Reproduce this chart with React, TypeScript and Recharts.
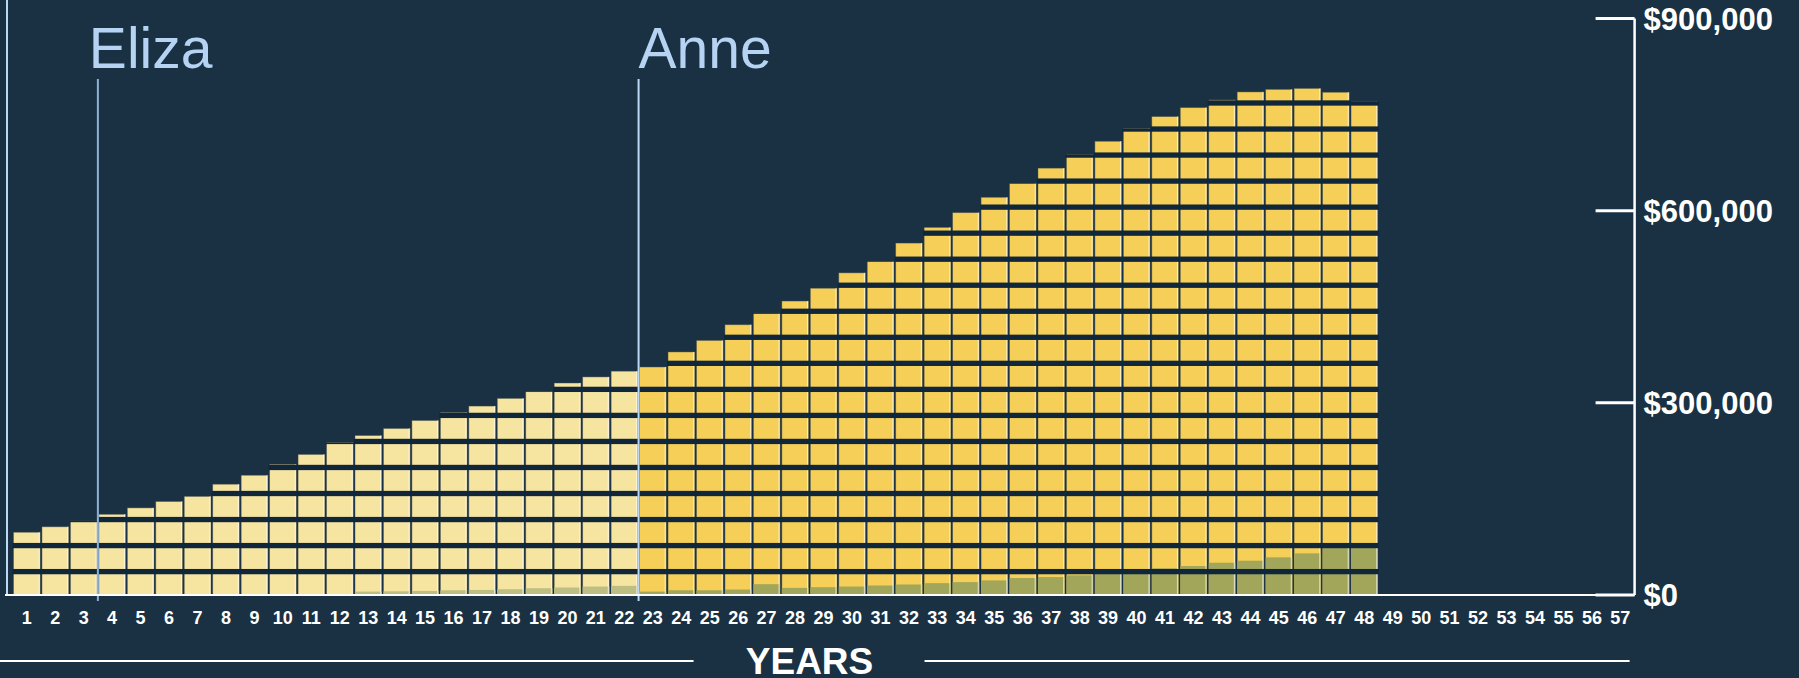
import React from "react";
import { BarChart, Bar, XAxis, YAxis, ReferenceLine, Label } from "recharts";

// categories: years on the x axis (bars run to year 48, axis to 57)
const years = [
  1, 2, 3, 4, 5, 6, 7, 8, 9, 10, 11, 12, 13, 14, 15, 16, 17, 18, 19, 20,
  21, 22, 23, 24, 25, 26, 27, 28, 29, 30, 31, 32, 33, 34, 35, 36, 37, 38, 39, 40,
  41, 42, 43, 44, 45, 46, 47, 48, 49, 50, 51, 52, 53, 54, 55, 56, 57,
];

// total height of each yellow bar ($)
const balance = [
  98000, 106500, 115500, 126000, 136000, 146000, 154000, 173000, 187000, 204000,
  219500, 238000, 249000, 260000, 272500, 285000, 295000, 307000, 318000, 331000,
  340500, 349500, 356000, 379500, 397500, 422000, 440000, 459000, 479000, 503000,
  521000, 549500, 574000, 597000, 621000, 642500, 666500, 688000, 708500, 728000,
  747000, 761000, 773000, 785500, 789500, 791000, 785000, 771000,
];

// olive part at the foot of each bar ($)
const principal = [
  0, 0, 0, 0, 0, 0, 0, 0, 0, 0,
  0, 0, 5300, 5800, 6300, 7400, 7900, 9000, 10600, 11700,
  13200, 14300, 5300, 7400, 7400, 8500, 16900, 11100, 12200, 13200,
  14800, 16400, 18500, 20100, 22800, 26500, 28000, 30700, 33000, 35000,
  41600, 45200, 50400, 53500, 58800, 65000, 75000, 76000,
];

const yTicks = [0, 300000, 600000, 900000];

// people marked on the timeline
const markerNames = ["Eliza", "Anne"];
const markerYears = [4, 23];

// one block of the stacked pictogram, and the dark gap between blocks ($)
const BLOCK = 40650;
const GAP = 8270;

const data = years.map((year, i) => ({
  year,
  balance: balance[i] ?? null,
  principal: principal[i] ?? null,
}));

const FONT = "'Liberation Sans', Arial, sans-serif";
const BG = "#1a3143";

const BlockBar = (props: any) => {
  const { x, y, width, height, payload } = props;
  if (!payload || !payload.balance || !(height > 0)) return null;
  const pxPer = height / payload.balance;
  const base = y + height;
  const late = payload.year >= markerYears[1];
  const fill = late ? "#f5cf57" : "#f6e4a1";
  const olive = late ? "#a1a65b" : "#bdbf82";
  const greenH = (payload.principal || 0) * pxPer;

  const stripes = [];
  for (let k = 1; k * BLOCK - GAP < payload.balance; k++) {
    const top = Math.max(base - k * BLOCK * pxPer, y);
    const bottom = base - (k * BLOCK - GAP) * pxPer;
    stripes.push(
      <rect key={k} x={x - 1} y={top} width={width + 2} height={bottom - top} fill="#10263a" />
    );
  }

  return (
    <g>
      <rect x={x} y={y} width={width} height={height} fill={fill} stroke="rgba(70,80,80,0.55)" strokeWidth={0.8} />
      {greenH > 0 && <rect x={x} y={base - greenH} width={width} height={greenH} fill={olive} />}
      <rect x={x + width - 1.6} y={y} width={1.2} height={height} fill="rgba(255,255,255,0.6)" />
      {stripes}
      <rect x={x - 1} y={base + 5} width={width + 2} height={1.4} fill="#9e9886" />
    </g>
  );
};

const YearTick = ({ x, y, payload }: any) => (
  <text x={x} y={y + 29.4} textAnchor="middle" fill="#ffffff" fontSize={18} fontWeight={700} fontFamily={FONT}>
    {payload.value}
  </text>
);

const MoneyTick = ({ x, y, payload }: any) => (
  <g>
    <line x1={x - 39} x2={x} y1={y} y2={y} stroke="#ffffff" strokeWidth={3} />
    <text x={x + 9} y={y} dy="0.36em" fill="#ffffff" fontSize={31} fontWeight={700} fontFamily={FONT}>
      {"$" + Number(payload.value).toLocaleString("en-US")}
    </text>
  </g>
);

const YearsLabel = ({ viewBox }: any) => {
  if (!viewBox) return null;
  const cx = viewBox.x + viewBox.width / 2 - 14;
  const lineY = viewBox.y + 66;
  return (
    <g>
      <line x1={7} x2={7} y1={0} y2={viewBox.y} stroke="#bcd8f5" strokeWidth={2} />
      <line x1={5} x2={viewBox.x + 1} y1={viewBox.y} y2={viewBox.y} stroke="#ffffff" strokeWidth={2} />
      <line x1={0} x2={cx - 116} y1={lineY} y2={lineY} stroke="#ffffff" strokeWidth={2} />
      <line x1={cx + 115} x2={viewBox.x + viewBox.width - 5} y1={lineY} y2={lineY} stroke="#ffffff" strokeWidth={2} />
      <text x={cx} y={viewBox.y + 79} textAnchor="middle" fill="#ffffff" fontSize={37} fontWeight={700} fontFamily={FONT}>
        YEARS
      </text>
    </g>
  );
};

const markerShape = (name: string, stroke: string, dx: number) => (p: any) => {
  const top = Math.min(p.y1, p.y2);
  const bottom = Math.max(p.y1, p.y2);
  return (
    <g>
      <line x1={p.x1} x2={p.x1} y1={top + 60.4} y2={bottom + 6} stroke={stroke} strokeWidth={2} />
      <text x={p.x1 + dx} y={top + 49.5} fill="#b6d3f3" fontSize={57} fontFamily={FONT}>
        {name}
      </text>
    </g>
  );
};

export default function App() {
  return (
    <div style={{ position: "absolute", left: 0, top: 0, width: 1799, height: 678, background: BG, overflow: "hidden" }}>
      <BarChart
        width={1799}
        height={678}
        data={data}
        margin={{ top: 18.6, right: 0, bottom: 0, left: 12.5 }}
        barSize={26.7}
        style={{ background: BG }}
      >
        <XAxis
          dataKey="year"
          type="category"
          interval={0}
          height={83}
          tickLine={false}
          tickSize={0}
          tickMargin={0}
          axisLine={{ stroke: "#ffffff", strokeWidth: 2 }}
          tick={<YearTick />}
        >
          <Label content={<YearsLabel />} />
        </XAxis>
        <YAxis
          orientation="right"
          width={164.4}
          domain={[0, 900000]}
          ticks={yTicks}
          allowDataOverflow
          tickLine={false}
          tickSize={0}
          tickMargin={0}
          axisLine={{ stroke: "#ffffff", strokeWidth: 2.5 }}
          tick={<MoneyTick />}
        />
        <Bar dataKey="balance" isAnimationActive={false} shape={BlockBar} />
        <ReferenceLine
          x={markerYears[0]}
          position="start"
          ifOverflow="visible"
          shape={markerShape(markerNames[0], "#8fb1d4", -9)}
        />
        <ReferenceLine
          x={markerYears[1]}
          position="start"
          ifOverflow="visible"
          shape={markerShape(markerNames[1], "#bcd8f5", 0)}
        />
      </BarChart>
    </div>
  );
}
